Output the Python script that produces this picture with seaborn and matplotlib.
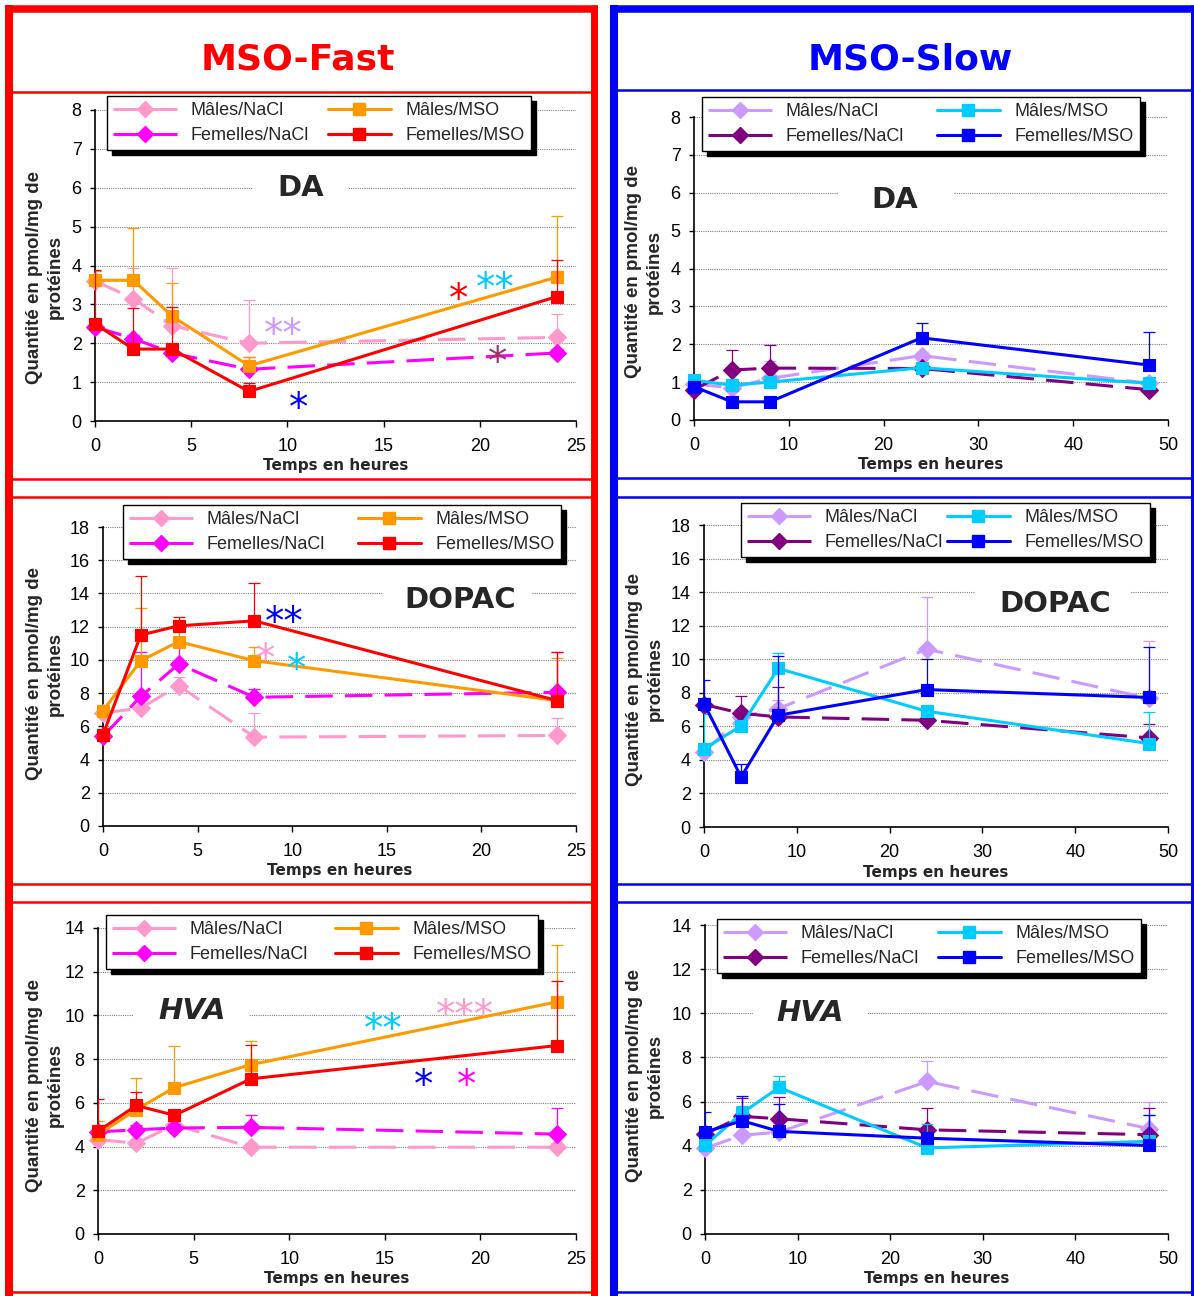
import numpy as np
import pandas as pd
import matplotlib
matplotlib.use("Agg")
import matplotlib.pyplot as plt
from matplotlib.lines import Line2D
from matplotlib.patches import Rectangle
import seaborn as sns

W, H = 1194, 1296

# time points (hours)
T_FAST = [0, 2, 4, 8, 24]
T_SLOW = [0, 4, 8, 24, 48]
SERIES = ["Mâles/NaCl", "Femelles/NaCl", "Mâles/MSO", "Femelles/MSO"]

# ---- DA, MSO-Fast ----
da_fast_mn = [3.6, 3.15, 2.45, 2.0, 2.15]
da_fast_mn_err = [0.25, 0.78, 1.48, 1.11, 0.6]
da_fast_fn = [2.42, 2.12, 1.75, 1.33, 1.75]
da_fast_fn_err = [0.1, 0.1, 0.1, 0.32, 0.1]
da_fast_mm = [3.62, 3.62, 2.7, 1.42, 3.7]
da_fast_mm_err = [0.23, 1.34, 0.86, 0.23, 1.58]
da_fast_fm = [2.5, 1.85, 1.85, 0.76, 3.2]
da_fast_fm_err = [1.39, 1.05, 1.09, 0.22, 0.95]

# ---- DA, MSO-Slow ----
da_slow_mn = [0.95, 0.85, 1.1, 1.7, 0.97]
da_slow_mn_err = [0.1, 0.1, 0.45, 0.1, 0.1]
da_slow_fn = [0.8, 1.32, 1.37, 1.36, 0.8]
da_slow_fn_err = [0.1, 0.54, 0.61, 0.1, 0.1]
da_slow_mm = [1.05, 0.92, 1.0, 1.38, 0.97]
da_slow_mm_err = [0.1, 0.05, 0.1, 0.1, 0.05]
da_slow_fm = [0.88, 0.48, 0.48, 2.17, 1.45]
da_slow_fm_err = [0.1, 0.05, 0.05, 0.4, 0.88]

# ---- DOPAC, MSO-Fast ----
dopac_fast_mn = [6.8, 7.1, 8.45, 5.35, 5.45]
dopac_fast_mn_err = [0.3, 0.5, 0.5, 1.45, 1.05]
dopac_fast_fn = [5.4, 7.8, 9.75, 7.75, 8.05]
dopac_fast_fn_err = [0.3, 2.7, 1.0, 0.5, 2.45]
dopac_fast_mm = [6.95, 9.95, 11.1, 9.95, 7.55]
dopac_fast_mm_err = [0.3, 3.15, 1.3, 0.85, 2.55]
dopac_fast_fm = [5.5, 11.5, 12.05, 12.35, 7.55]
dopac_fast_fm_err = [0.4, 3.55, 0.52, 2.25, 2.92]

# ---- DOPAC, MSO-Slow ----
dopac_slow_mn = [4.47, 6.56, 7.06, 10.6, 7.66]
dopac_slow_mn_err = [0.3, 0.5, 0.5, 3.12, 3.44]
dopac_slow_fn = [7.3, 6.78, 6.56, 6.36, 5.31]
dopac_slow_fn_err = [0.4, 1.02, 1.8, 0.5, 0.8]
dopac_slow_mm = [4.65, 6.03, 9.45, 6.9, 4.97]
dopac_slow_mm_err = [2.1, 0.3, 0.95, 0.3, 1.9]
dopac_slow_fm = [7.36, 2.98, 6.66, 8.19, 7.72]
dopac_slow_fm_err = [1.4, 0.8, 3.55, 1.8, 3.0]

# ---- HVA, MSO-Fast ----
hva_fast_mn = [4.32, 4.15, 5.0, 3.97, 3.97]
hva_fast_mn_err = [0.2, 0.2, 0.2, 0.2, 0.2]
hva_fast_fn = [4.67, 4.77, 4.85, 4.88, 4.57]
hva_fast_fn_err = [0.1, 0.2, 0.2, 0.58, 1.19]
hva_fast_mm = [4.54, 5.69, 6.7, 7.75, 10.62]
hva_fast_mm_err = [0.65, 1.45, 1.88, 1.07, 2.58]
hva_fast_fm = [4.7, 5.88, 5.43, 7.1, 8.62]
hva_fast_fm_err = [1.46, 0.6, 0.2, 1.53, 2.97]

# ---- HVA, MSO-Slow ----
hva_slow_mn = [3.89, 4.47, 4.62, 6.91, 4.77]
hva_slow_mn_err = [0.2, 0.2, 0.2, 0.95, 1.2]
hva_slow_fn = [4.53, 5.33, 5.22, 4.72, 4.5]
hva_slow_fn_err = [0.2, 0.82, 0.98, 1.01, 1.23]
hva_slow_mm = [4.01, 5.48, 6.64, 3.9, 4.2]
hva_slow_mm_err = [0.2, 0.3, 0.5, 1.09, 1.2]
hva_slow_fm = [4.62, 5.13, 4.65, 4.34, 4.01]
hva_slow_fm_err = [0.93, 1.13, 1.23, 0.2, 1.36]

# significance stars (text, x, y, colour)
da_fast_star_txt = ["**", "*", "**", "*", "*"]
da_fast_star_x = [9.8, 18.9, 20.8, 20.9, 10.6]
da_fast_star_y = [2.45, 3.35, 3.65, 1.75, 0.55]
da_fast_star_col = ["#CC99FF", "#FF0000", "#00CCFF", "#993366", "#0000FF"]

dopac_fast_star_txt = ["**", "*", "*"]
dopac_fast_star_x = [9.6, 8.6, 10.25]
dopac_fast_star_y = [12.8, 10.6, 10.0]
dopac_fast_star_col = ["#0000FF", "#FF99CC", "#00CCFF"]

hva_fast_star_txt = ["**", "***", "*", "*"]
hva_fast_star_x = [14.9, 19.2, 17.05, 19.25]
hva_fast_star_y = [9.8, 10.4, 7.2, 7.2]
hva_fast_star_col = ["#00CCFF", "#FF99CC", "#0000FF", "#FF00FF"]

FAST_COLORS = ["#FF99CC", "#FF00FF", "#FF9900", "#FF0000"]
SLOW_COLORS = ["#CC99FF", "#800080", "#00CCFF", "#0000FF"]
LSTYLES = [(0, (9, 4)), (0, (9, 4)), "-", "-"]
MARKERS = ["D", "D", "s", "s"]
MSIZES = [9, 9, 9, 9]

sns.set_style("white")
plt.rcParams["font.family"] = ["Liberation Sans", "DejaVu Sans"]

fig = plt.figure(figsize=(W / 100, H / 100), dpi=100)


def fx(px):
    return px / W


def fy(py):
    return 1 - py / H


def fline(x0, y0, x1, y1, color, lw):
    fig.add_artist(Line2D([fx(x0), fx(x1)], [fy(y0), fy(y1)], transform=fig.transFigure,
                          color=color, linewidth=lw, solid_capstyle="butt"))


# frames
for y in [92, 479, 497, 884, 902, 1292]:
    fline(9, y, 594, y, "#FF0000", 1.8)
fline(9, 5, 9, 1296, "#FF0000", 5.8)
fline(5, 8.5, 598, 8.5, "#FF0000", 5.4)
fline(594, 5, 594, 1296, "#FF0000", 5.0)

for y in [90, 478, 497, 884, 902, 1292]:
    fline(614, y, 1192, y, "#0000FF", 1.8)
fline(614, 5, 614, 1296, "#0000FF", 5.8)
fline(610, 8.5, 1194, 8.5, "#0000FF", 5.4)
fline(1191.5, 5, 1191.5, 1296, "#0000FF", 2.2)

fig.text(fx(298), fy(60), "MSO-Fast", color="#FF0000", fontsize=26, fontweight="bold",
         family="DejaVu Sans", ha="center", va="center")
fig.text(fx(910), fy(60), "MSO-Slow", color="#0000FF", fontsize=26, fontweight="bold",
         family="DejaVu Sans", ha="center", va="center")

panels = [
    dict(box=(95, 576, 110, 421), t=T_FAST, xmax=25, xstep=5, ymax=8, ystep=1,
         means=[da_fast_mn, da_fast_fn, da_fast_mm, da_fast_fm],
         errs=[da_fast_mn_err, da_fast_fn_err, da_fast_mm_err, da_fast_fm_err],
         colors=FAST_COLORS, name="DA", name_xy=(10.7, 6.0), gap=(8.2, 13.2, 6), italic=False,
         legend=(107, 531, 96), ylab=(45, 277),
         stars=(da_fast_star_txt, da_fast_star_x, da_fast_star_y, da_fast_star_col)),
    dict(box=(694, 1168, 117, 420), t=T_SLOW, xmax=50, xstep=10, ymax=8, ystep=1,
         means=[da_slow_mn, da_slow_fn, da_slow_mm, da_slow_fm],
         errs=[da_slow_mn_err, da_slow_fn_err, da_slow_mm_err, da_slow_fm_err],
         colors=SLOW_COLORS, name="DA", name_xy=(21.2, 5.8), gap=(15.3, 27.4, 6), italic=False,
         legend=(702, 1140, 97), ylab=(644, 272), stars=None),
    dict(box=(103, 576, 527, 826), t=T_FAST, xmax=25, xstep=5, ymax=18, ystep=2,
         means=[dopac_fast_mn, dopac_fast_fn, dopac_fast_mm, dopac_fast_fm],
         errs=[dopac_fast_mn_err, dopac_fast_fn_err, dopac_fast_mm_err, dopac_fast_fm_err],
         colors=FAST_COLORS, name="DOPAC", name_xy=(18.9, 13.6), gap=(14.8, 22.7, 14), italic=False,
         legend=(123, 561, 505), ylab=(45, 674),
         stars=(dopac_fast_star_txt, dopac_fast_star_x, dopac_fast_star_y, dopac_fast_star_col)),
    dict(box=(704, 1168, 525, 827), t=T_SLOW, xmax=50, xstep=10, ymax=18, ystep=2,
         means=[dopac_slow_mn, dopac_slow_fn, dopac_slow_mm, dopac_slow_fm],
         errs=[dopac_slow_mn_err, dopac_slow_fn_err, dopac_slow_mm_err, dopac_slow_fm_err],
         colors=SLOW_COLORS, name="DOPAC", name_xy=(37.8, 13.3), gap=(29.2, 45.9, 14), italic=False,
         legend=(741, 1150, 503), ylab=(645, 679), stars=None),
    dict(box=(98, 576, 928, 1234), t=T_FAST, xmax=25, xstep=5, ymax=14, ystep=2,
         means=[hva_fast_mn, hva_fast_fn, hva_fast_mm, hva_fast_fm],
         errs=[hva_fast_mn_err, hva_fast_fn_err, hva_fast_mm_err, hva_fast_fm_err],
         colors=FAST_COLORS, name="HVA", name_xy=(4.9, 10.2), gap=(1.9, 7.9, 10), italic=True,
         legend=(106, 538, 915), ylab=(45, 1085),
         stars=(hva_fast_star_txt, hva_fast_star_x, hva_fast_star_y, hva_fast_star_col)),
    dict(box=(705, 1168, 925, 1234), t=T_SLOW, xmax=50, xstep=10, ymax=14, ystep=2,
         means=[hva_slow_mn, hva_slow_fn, hva_slow_mm, hva_slow_fm],
         errs=[hva_slow_mn_err, hva_slow_fn_err, hva_slow_mm_err, hva_slow_fm_err],
         colors=SLOW_COLORS, name="HVA", name_xy=(11.3, 10.0), gap=(5.2, 17.5, 10), italic=True,
         legend=(717, 1141, 919), ylab=(645, 1076), stars=None),
]

for p in panels:
    x0, x1, ytop, ybot = p["box"]
    ax = fig.add_axes([fx(x0), fy(ybot), (x1 - x0) / W, (ybot - ytop) / H])
    handles = []
    for i, (m, e) in enumerate(zip(p["means"], p["errs"])):
        c = p["colors"][i]
        df = pd.DataFrame({"t": p["t"], "v": m})
        sns.lineplot(data=df, x="t", y="v", ax=ax, color=c, linewidth=2.2,
                     linestyle=LSTYLES[i], marker=MARKERS[i], markersize=MSIZES[i],
                     markeredgecolor=c, markeredgewidth=0.8, errorbar=None,
                     legend=False, zorder=3 + i, clip_on=False)
        ax.errorbar(p["t"], m, yerr=[np.zeros(len(e)), e], fmt="none", ecolor=c,
                    elinewidth=0.9, capsize=4, capthick=0.9, zorder=3 + i)
        handles.append(Line2D([], [], color=c, linewidth=2.2, linestyle=LSTYLES[i],
                              marker=MARKERS[i], markersize=MSIZES[i] - 1,
                              markeredgecolor=c))

    ax.set_xlim(0, p["xmax"])
    ax.set_ylim(0, p["ymax"])
    ax.set_xticks(np.arange(0, p["xmax"] + 1, p["xstep"]))
    ax.set_yticks(np.arange(0, p["ymax"] + 1, p["ystep"]))
    ax.set_xlabel("")
    ax.set_ylabel("")
    for s in ["top", "right"]:
        ax.spines[s].set_visible(False)
    for s in ["left", "bottom"]:
        ax.spines[s].set_color("black")
        ax.spines[s].set_linewidth(1.2)
    ax.tick_params(axis="y", direction="out", length=3.6, width=1, pad=6, labelsize=13,
                   left=True, colors="black")
    ax.tick_params(axis="x", direction="out", length=4, width=1, pad=8, labelsize=13,
                   bottom=True, colors="black")
    ax.yaxis.grid(True, color="#808080", linestyle=(0, (1, 1)), linewidth=0.8)
    ax.xaxis.grid(False)
    ax.set_axisbelow(True)

    # white gap in the grid line behind the compound name
    gx0, gx1, gy = p["gap"]
    dy = p["ymax"] * 0.03
    ax.add_patch(Rectangle((gx0, gy - dy), gx1 - gx0, 2 * dy, facecolor="white",
                           edgecolor="none", zorder=1))
    ax.text(p["name_xy"][0], p["name_xy"][1], p["name"], fontsize=21, fontweight="bold",
            family="DejaVu Sans", style="italic" if p["italic"] else "normal",
            ha="center", va="center", zorder=2)

    if p["stars"] is not None:
        for txt, sx, sy, sc in zip(*p["stars"]):
            ax.annotate(txt, (sx, sy), xytext=(0, -7), textcoords="offset points",
                        fontsize=28, color=sc, ha="center", va="center",
                        family="DejaVu Sans", zorder=8)

    lx0, lx1, lytop = p["legend"]
    leg = ax.legend(handles, SERIES, ncol=2, loc="upper left",
                    bbox_to_anchor=(fx(lx0), fy(lytop), (lx1 - lx0) / W, 0),
                    bbox_transform=fig.transFigure, mode="expand", borderaxespad=0,
                    frameon=True, fancybox=False, framealpha=1, edgecolor="black",
                    shadow={"color": "black", "alpha": 1, "ox": 3.5, "oy": -3.5},
                    fontsize=13, handlelength=3.5, handletextpad=0.8, labelspacing=0.42,
                    borderpad=0.35, columnspacing=1.0)
    leg.get_frame().set_linewidth(1.0)
    leg.set_zorder(10)

    # axis labels
    fig.text(fx((x0 + x1) / 2), fy(ybot + 45), "Temps en heures", fontsize=11,
             fontweight="bold", family="DejaVu Sans", ha="center", va="center")
    fig.text(fx(p["ylab"][0]), fy(p["ylab"][1]), "Quantité en pmol/mg de\nprotéines",
             rotation=90, fontsize=13.5, fontweight="bold", ha="center", va="center",
             ma="center", linespacing=1.3)

fig.savefig("out.png", dpi=100)
